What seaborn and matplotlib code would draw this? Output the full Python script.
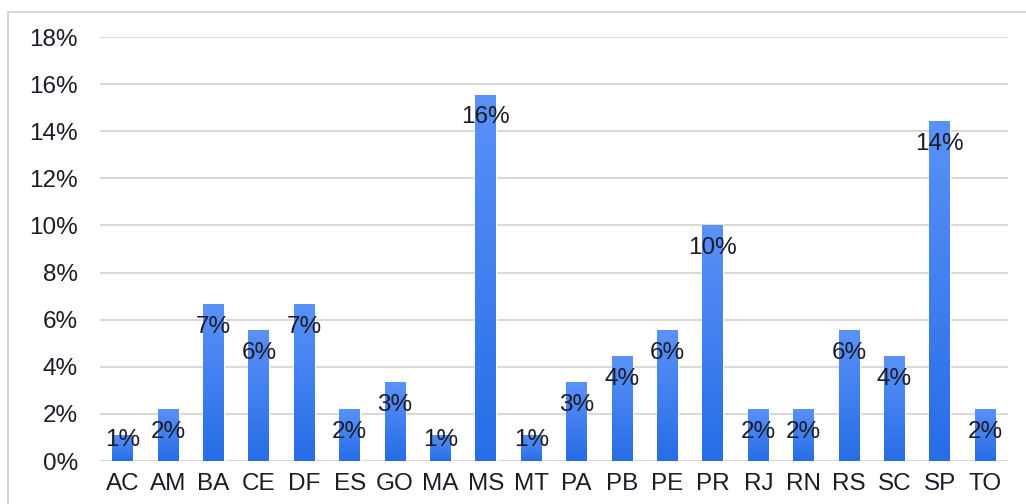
import numpy as np
import pandas as pd
import matplotlib
matplotlib.use("Agg")
import matplotlib.pyplot as plt
from matplotlib.colors import LinearSegmentedColormap
from matplotlib.patches import Rectangle
import seaborn as sns

# Share of records per Brazilian state (percent)
states = ["AC", "AM", "BA", "CE", "DF", "ES", "GO", "MA", "MS", "MT",
          "PA", "PB", "PE", "PR", "RJ", "RN", "RS", "SC", "SP", "TO"]
counts = [1, 2, 6, 5, 6, 2, 3, 1, 14, 1, 3, 4, 5, 9, 2, 2, 5, 4, 13, 2]
total = sum(counts)
shares = [100.0 * c / total for c in counts]
y_ticks = [0, 2, 4, 6, 8, 10, 12, 14, 16, 18]

df = pd.DataFrame({"state": states, "share": shares})

sns.set_theme(style="white")
plt.rcParams["font.family"] = ["Liberation Sans", "DejaVu Sans"]

W, H = 1026, 504
fig = plt.figure(figsize=(W / 100, H / 100), dpi=100)
ax = fig.add_axes([100 / W, (H - 461) / H, 908 / W, 424 / H])

# outer chart frame
fig.patches.append(Rectangle((8 / W, -0.1), 1.2, (H - 12) / H + 0.1,
                             transform=fig.transFigure, fill=False,
                             edgecolor="#d6d6d6", linewidth=1.5, zorder=0))

sns.barplot(data=df, x="state", y="share", color="#3a7ff0", width=0.46,
            saturation=1, ax=ax, zorder=3)

# vertical blue gradient on each bar, lighter at the top
cmap = LinearSegmentedColormap.from_list("bar", ["#276de6", "#5a92f8"])
grad = np.linspace(0, 1, 256).reshape(-1, 1)
for p in ax.patches:
    x0, y0 = p.get_x(), p.get_y()
    w, h = p.get_width(), p.get_height()
    im = ax.imshow(grad, cmap=cmap, origin="lower", aspect="auto",
                   extent=[x0, x0 + w, y0, y0 + h], zorder=4)
    im.set_clip_path(p)

# value labels just below each bar top
for i, v in enumerate(shares):
    ax.text(i, max(v - 0.97, 0.9), f"{v:.0f}%", ha="center", va="center",
            fontsize=17.5, color="#1c1c28", zorder=6)

ax.set_xlim(-0.5, len(states) - 0.5)
ax.set_ylim(0, 18)
ax.set_yticks(y_ticks)
ax.set_yticklabels([f"{t}%" for t in y_ticks])
ax.yaxis.grid(True, color="#d9d9d9", linewidth=1.5, zorder=0)
ax.set_axisbelow(True)
for s in ax.spines.values():
    s.set_visible(False)
ax.set_xlabel("")
ax.set_ylabel("")
ax.tick_params(axis="y", length=0, pad=16, labelsize=17.5, labelcolor="#1c1c28")
ax.tick_params(axis="x", length=0, pad=9, labelsize=17.5, labelcolor="#1c1c28")
ax.set_xlim(-0.5, len(states) - 0.5)
ax.set_ylim(0, 18)

fig.savefig("out.png", dpi=100, facecolor="white")
